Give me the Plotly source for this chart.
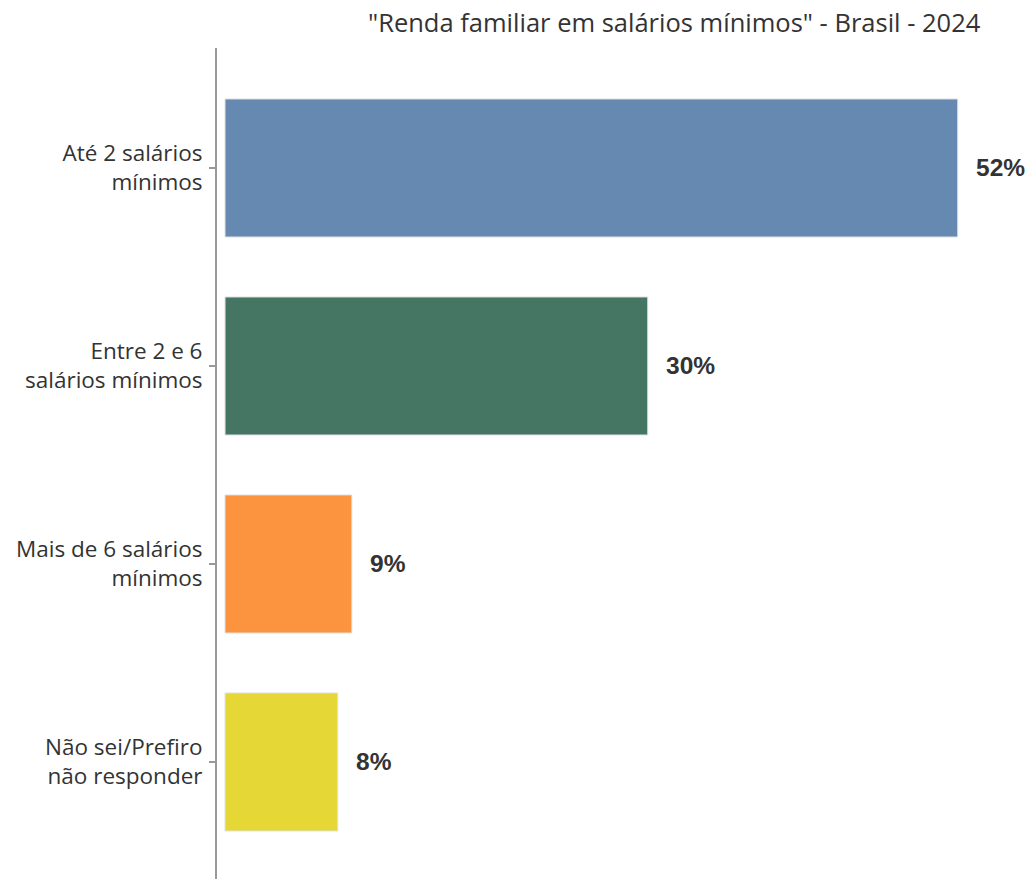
import plotly.graph_objects as go

categories = ["Até 2 salários<br>mínimos", "Entre 2 e 6<br>salários mínimos",
              "Mais de 6 salários<br>mínimos", "Não sei/Prefiro<br>não responder"]
values = [52, 30, 9, 8]
labels = ["52%", "30%", "9%", "8%"]
colors = ["#6689b1", "#457563", "#fb933f", "#e5d836"]
title = '"Renda familiar em salários mínimos" - Brasil - 2024'

W, H = 1032, 879

fig = go.Figure()
fig.add_trace(go.Bar(
    y=categories, x=values, orientation="h",
    marker=dict(color=colors, line=dict(color="#e0e0e0", width=1)),
    width=0.697, hoverinfo="skip",
))

for c, v, t in zip(categories, values, labels):
    fig.add_annotation(x=v, y=c, text="<b>" + t + "</b>", showarrow=False,
                       xanchor="left", yanchor="middle", xshift=16,
                       font=dict(family="Liberation Sans, Arial", size=24.5, color="#333333"))

L, T = 217, 48
fig.add_annotation(text=title, showarrow=False, xref="paper", yref="paper",
                   x=(983 - L) / (W - L - 32), xanchor="right",
                   y=1 + (T - 22) / (H - T), yanchor="middle",
                   font=dict(family="Open Sans", size=25.5, color="#333333"))

fig.update_layout(
    width=W, height=H,
    margin=dict(l=L, r=32, t=T, b=0),
    plot_bgcolor="white", paper_bgcolor="white",
    showlegend=False,
    xaxis=dict(range=[-0.57, 55.0], visible=False, fixedrange=True),
    yaxis=dict(
        categoryorder="array", categoryarray=categories,
        range=[3.591, -0.606], autorange=False, fixedrange=True,
        showline=True, linecolor="#999999", linewidth=2,
        ticks="outside", ticklen=6, tickcolor="#999999", tickwidth=2,
        ticklabelstandoff=2,
        showgrid=False, zeroline=False,
        tickfont=dict(family="Open Sans", size=22.5, color="#333333"),
    ),
)

fig.write_html("out.html", config={"displayModeBar": False},
               post_script="document.body.style.margin='0';document.body.style.overflow='hidden';")
